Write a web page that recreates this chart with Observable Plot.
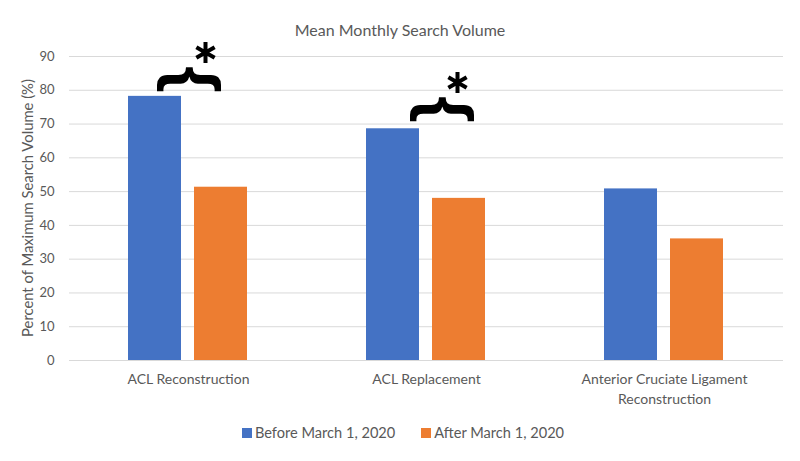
<!DOCTYPE html>
<html><head><meta charset="utf-8">
<script src="https://cdn.jsdelivr.net/npm/d3@7"></script>
<script src="https://cdn.jsdelivr.net/npm/@observablehq/plot@0.6"></script>
<style>
body{margin:0;background:#fff;font-family:Lato,sans-serif;color:#595959}
#wrap{position:relative;width:800px;height:461px;overflow:hidden}
#chart{position:absolute;top:0;left:0}
#title{position:absolute;top:21px;left:0;width:800px;text-align:center;font-size:16px;color:#595959;line-height:18px}
#ylabel{position:absolute;left:27px;top:208px;transform:translate(-50%,-50%) rotate(-90deg);white-space:nowrap;font-size:14.8px;color:#595959;line-height:16px}
#legend{position:absolute;top:416px;left:0;width:806px;display:flex;justify-content:center}
#legend div, #legend span{font-family:Lato,sans-serif !important;font-size:14.6px !important;color:#595959 !important}
#legend .lg-swatch{margin-right:26px !important}
#legend .lg-swatch:last-child{margin-right:0 !important}
#legend .lg-swatch svg{margin-right:3px !important}
</style></head><body>
<div id="wrap"><div id="chart"></div><div id="title">Mean Monthly Search Volume</div><div id="ylabel">Percent of Maximum Search Volume (%)</div><div id="legend"></div></div>
<script>
const categories = ["ACL Reconstruction", "ACL Replacement", "Anterior Cruciate Ligament Reconstruction"];
const categoryLabels = ["ACL Reconstruction", "ACL Replacement", "Anterior Cruciate Ligament\nReconstruction"];
const series = ["Before March 1, 2020", "After March 1, 2020"];
const before = [78.2, 68.6, 50.8];
const after = [51.3, 48.0, 36.0];
const yTicks = [0, 10, 20, 30, 40, 50, 60, 70, 80, 90];
const colors = ["#4472C4", "#ED7D31"];
const sigCategories = ["ACL Reconstruction", "ACL Replacement"];
const braceY = [83.2, 74.3];
const starY = [91.2, 82.3];

const data = categories.flatMap((c, i) => [
  {category: c, period: series[0], value: before[i]},
  {category: c, period: series[1], value: after[i]}
]);
const labelOf = new Map(categories.map((c, i) => [c, categoryLabels[i]]));
const braces = sigCategories.map((c, i) => ({category: c, y: braceY[i], sy: starY[i]}));

const chart = Plot.plot({
  width: 800, height: 461,
  marginTop: 56, marginBottom: 101, marginLeft: 68, marginRight: 16,
  style: {fontFamily: "Lato, sans-serif", fontSize: "13px", color: "#595959", background: "transparent", overflow: "visible"},
  fx: {domain: categories, padding: 0, label: null},
  x: {domain: series, paddingInner: 0.194, paddingOuter: 0.88, axis: null},
  y: {domain: [0, 90], label: null},
  color: {domain: series, range: colors},
  marks: [
    Plot.gridY(yTicks, {stroke: "#d9d9d9", strokeOpacity: 1, strokeWidth: 1}),
    Plot.axisY(yTicks, {tickSize: 0, tickPadding: 15, fontSize: 13, label: null}),
    Plot.axisFx({anchor: "bottom", tickSize: 0, tickPadding: 10, fontSize: 14, lineHeight: 1.4, tickFormat: d => labelOf.get(d), label: null}),
    Plot.barY(data, {fx: "category", x: "period", y: "value", fill: "period"}),
    Plot.ruleY([0], {stroke: "#d9d9d9", strokeWidth: 1}),
    Plot.text([braces[0]], {fx: "category", y: "y", text: () => "{", rotate: 90, dx: 4, fontSize: 68, fontWeight: "bold", fontFamily: "Liberation Sans", fill: "black", lineAnchor: "middle"}),
    Plot.text([braces[1]], {fx: "category", y: "y", text: () => "{", rotate: 90, dx: 19, fontSize: 68, fontWeight: "bold", fontFamily: "Liberation Sans", fill: "black", lineAnchor: "middle"}),
    Plot.dot([braces[0]], {fx: "category", y: "sy", dx: 17, symbol: "asterisk", r: 10, stroke: "black", strokeWidth: 4}),
    Plot.dot([braces[1]], {fx: "category", y: "sy", dx: 31, symbol: "asterisk", r: 10, stroke: "black", strokeWidth: 4})
  ]
});
document.getElementById("chart").appendChild(chart);

const legend = Plot.legend({color: {domain: series, range: colors}, legend: "swatches", swatchSize: 10, className: "lg"});
document.getElementById("legend").appendChild(legend);
</script>
</body></html>
